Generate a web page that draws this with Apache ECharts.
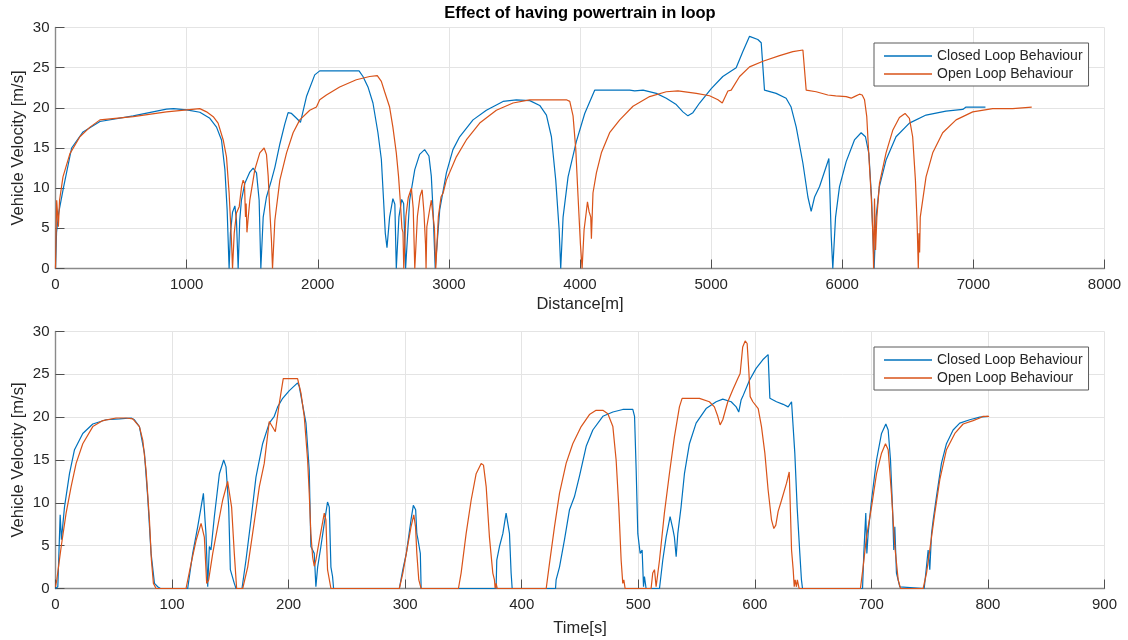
<!DOCTYPE html>
<html>
<head>
<meta charset="utf-8">
<title>Effect of having powertrain in loop</title>
<script src="https://cdn.jsdelivr.net/npm/echarts@6/dist/echarts.min.js"></script>
<style>
  html, body { margin: 0; padding: 0; background: #fff; }
  #chart { width: 1128px; height: 640px; }
</style>
</head>
<body>
<div id="chart"></div>
<script>
// Vehicle velocity [m/s] against travelled distance [m]
const distClosed = [
  [0,0],[8,4.5],[25,7],[60,10],[123,15],[210,17],[339,18.3],[593,19.0],[846,19.85],[900,19.9],[1000,19.75],
  [1101,19.45],[1177,18.7],[1228,17.6],[1266,16.0],[1292,12.3],[1309,7.3],[1324,0],[1334,4.4],[1350,7.0],
  [1368,7.8],[1380,6.0],[1393,0],[1405,6.0],[1418,8.5],[1444,10.6],[1482,12.0],[1507,12.5],[1533,11.9],
  [1553,8.5],[1566,0],[1584,6.4],[1609,8.9],[1647,11.0],[1673,12.6],[1711,15.5],[1749,18.0],[1774,19.4],
  [1800,19.3],[1838,18.7],[1868,18.2],[1914,21.4],[1977,24.1],[2015,24.6],[2315,24.6],[2345,23.9],
  [2383,22.6],[2421,20.6],[2459,16.9],[2485,13.6],[2502,8.5],[2515,4.4],[2528,2.6],[2548,6.4],[2573,8.7],
  [2588,8.0],[2599,0],[2619,6.4],[2640,8.6],[2655,8.1],[2670,0],[2701,8.5],[2740,12.3],[2777,14.2],
  [2815,14.8],[2848,14.0],[2866,11.5],[2879,7.3],[2896,0],[2930,7.3],[2981,11.9],[3031,14.8],[3082,16.4],
  [3184,18.5],[3286,19.7],[3413,20.8],[3514,20.98],[3617,20.9],[3693,20.3],[3744,19.1],[3782,16.4],
  [3815,11.0],[3841,4.8],[3853,0],[3871,6.4],[3909,11.4],[3972,15.8],[4036,19.3],[4112,22.2],[4379,22.2],
  [4417,22.1],[4481,22.2],[4582,21.8],[4658,21.2],[4734,20.4],[4785,19.5],[4823,19.0],[4861,19.4],
  [4912,20.6],[5001,22.4],[5089,23.9],[5191,25.0],[5242,27.0],[5293,28.9],[5356,28.5],[5382,28.1],
  [5407,22.2],[5496,21.8],[5572,21.2],[5610,20.1],[5649,17.6],[5700,13.1],[5738,8.9],[5763,7.1],
  [5789,8.9],[5827,10.2],[5898,13.7],[5903,11.0],[5916,4.0],[5928,0],[5949,6.4],[5979,10.2],[6030,13.3],
  [6093,16.0],[6144,16.9],[6177,16.4],[6203,14.3],[6223,8.9],[6243,0],[6258,6.4],[6283,10.2],[6334,13.5],
  [6410,16.4],[6512,18.1],[6639,19.1],[6791,19.6],[6919,19.8],[6944,20.1],[7092,20.1]
];

const distOpen = [
  [0,0],[9,8.5],[22,5.2],[31,8.5],[57,11.4],[110,14.3],[186,16.4],[263,17.6],[339,18.5],[593,18.9],
  [846,19.5],[1100,19.9],[1152,19.5],[1203,18.9],[1240,18.1],[1279,16.0],[1304,13.9],[1324,9.4],
  [1342,3.5],[1350,0],[1363,4.4],[1380,6.9],[1401,7.7],[1419,10.2],[1431,11.0],[1441,10.6],[1449,6.4],
  [1454,8.1],[1460,4.5],[1468,6.0],[1482,8.5],[1520,12.3],[1558,14.4],[1591,15.0],[1609,14.2],
  [1622,11.5],[1634,7.3],[1647,3.5],[1655,0],[1673,6.0],[1711,11.0],[1762,14.4],[1812,16.9],[1863,18.5],
  [1939,19.7],[1990,20.1],[2015,21.0],[2066,21.6],[2167,22.6],[2294,23.5],[2396,23.9],[2454,24.0],
  [2485,23.3],[2510,22.0],[2548,20.1],[2573,17.6],[2599,14.4],[2616,11.5],[2629,8.5],[2642,5.0],
  [2650,4.5],[2656,0],[2672,6.5],[2690,8.8],[2714,10.0],[2728,7.5],[2740,0],[2760,6.5],[2780,9.0],
  [2796,9.8],[2810,7.0],[2822,3.0],[2826,0],[2832,5.2],[2850,7.0],[2866,8.5],[2880,8.7],[2890,5.0],
  [2900,0],[2920,6.5],[2940,8.9],[2956,9.4],[2981,11.0],[3057,13.9],[3133,16.0],[3235,18.1],[3362,19.7],
  [3489,20.6],[3616,21.0],[3896,21.0],[3922,20.8],[3947,19.0],[3968,14.8],[3985,9.0],[4003,3.1],
  [4016,0],[4031,4.8],[4044,6.5],[4057,8.3],[4069,7.1],[4082,6.4],[4087,3.7],[4099,9.4],[4125,11.9],
  [4163,14.4],[4226,16.9],[4303,18.5],[4404,20.2],[4531,21.4],[4658,22.0],[4747,22.1],[4887,21.8],
  [4988,21.5],[5052,21.0],[5085,20.6],[5102,21.2],[5128,22.1],[5153,22.2],[5217,23.9],[5293,25.1],
  [5395,25.8],[5522,26.5],[5623,27.0],[5700,27.2],[5725,22.2],[5801,22.0],[5890,21.6],[5950,21.5],
  [6030,21.4],[6068,21.2],[6093,21.4],[6131,21.7],[6152,21.6],[6170,21.0],[6187,18.9],[6203,14.0],
  [6221,9.0],[6234,4.0],[6239,0],[6246,8.7],[6254,2.3],[6264,6.4],[6284,10.6],[6334,14.4],[6385,17.2],
  [6436,18.8],[6479,19.3],[6512,18.7],[6537,16.4],[6558,11.0],[6571,5.6],[6580,0],[6585,4.4],[6590,2.0],
  [6595,6.4],[6639,11.4],[6690,14.4],[6766,16.9],[6868,18.5],[6995,19.5],[7147,19.9],[7300,19.9],[7445,20.1]
];

// Vehicle velocity [m/s] against time [s]
const timeClosed = [
  [0,0],[2,0.2],[4,8.6],[5.1,5.7],[7.7,9.5],[12,13.4],[16.3,16.2],[23.4,18.1],[32,19.2],[43.4,19.7],
  [54.9,19.8],[64.9,19.9],[67.7,19.7],[72,18.9],[76.3,15.8],[79.1,10.7],[82,4.1],[84.9,0.6],[87.7,0.2],
  [90,0],[113.4,0],[117.7,4.1],[122,7.2],[124.9,9.5],[126.9,11.1],[128.3,8.0],[129.1,6.4],[130.6,0.2],
  [132,4.9],[133.4,4.5],[136.3,8.4],[140.6,13.4],[144.3,15.0],[146.3,14.2],[148.6,9.5],[150,2.2],
  [153.4,0.6],[154.9,0],[160,0],[163.4,3.3],[167.7,8.0],[172,13.0],[177.7,16.9],[183.4,19.3],[187.7,20.1],
  [190.6,21.2],[194.9,22.2],[200.6,23.1],[207.7,24.0],[209.1,23.6],[214.9,19.3],[217.7,13.8],[219.1,4.9],
  [222,4.1],[223.4,0.2],[224.9,2.5],[227.7,4.9],[230.6,7.6],[233.4,10.1],[234.9,9.5],[236.3,2.5],
  [237.7,1.4],[238.6,0],[295,0],[298,2.2],[301,4.1],[305,8.0],[307,9.7],[309,9.2],[310,6.4],[311,5.7],
  [312,4.9],[313,4.1],[313.7,0],[378,0],[378.6,3.3],[380.9,4.9],[383.8,6.4],[386.6,8.8],[388,9.0],
  [389.5,6.4],[390.9,1.8],[391.8,0],[429,0],[429.5,1.0],[432.4,2.5],[436.7,5.7],[441,9.2],[445.2,10.7],
  [449.5,13.1],[455.3,16.6],[461,18.5],[469.6,20.1],[478.2,20.6],[486.7,20.9],[495.3,20.9],[496.8,20.1],
  [498.2,13.8],[499.6,6.4],[501.6,4.1],[503.3,4.5],[504.5,0.2],[505.3,1.4],[506.7,0],[518.2,0],[521,3.3],
  [523.9,6.0],[527.3,8.4],[529.6,7.0],[531,6.0],[532.5,3.7],[533.9,6.4],[536.7,9.5],[539.6,13.4],
  [543.9,16.9],[549.6,19.3],[558.2,21.0],[566.8,21.8],[572.5,22.1],[579.7,21.8],[584,21.2],[586.2,20.6],
  [588.2,22.0],[589.6,22.4],[595.4,24.3],[601.1,25.7],[606.8,26.7],[611.4,27.3],[612.9,22.2],[618.6,21.8],
  [624.3,21.5],[628.6,21.2],[631.5,21.8],[632.9,21.6],[634.3,15.8],[636.3,9.5],[638.6,4.1],[640,1.0],
  [640.9,0],[692.4,0],[693.5,4.1],[695.2,8.8],[696.1,4.1],[697.2,6.4],[700.1,10.3],[704.4,15.0],
  [708.7,18.1],[712.4,19.2],[714.4,18.5],[716.4,15.0],[718.1,9.5],[719.2,4.5],[720.1,7.2],[721.5,1.8],
  [724.4,0.2],[725.8,0],[745.3,0],[746.7,1.8],[748.7,4.5],[750.1,2.2],[751.6,6.4],[753,8.0],[755.8,10.7],
  [760.1,14.6],[764.4,16.9],[770.1,18.5],[775.8,19.3],[784.4,19.7],[793,20.0],[800.1,20.1]
];

const timeOpen = [
  [0,0.2],[1.1,1],[4.9,4.9],[9.1,8.8],[13.4,11.9],[17.7,14.6],[23.4,16.9],[32,18.9],[40.6,19.6],[52,19.9],
  [60.6,19.9],[66.3,19.8],[72,18.9],[74.9,17.3],[77.7,13.8],[80.6,8.0],[82.3,3.3],[84,0.6],[86.3,0],
  [112,0],[116.3,2.9],[120.6,5.6],[124.9,7.6],[126.3,7.8],[127.7,6.0],[129.7,0.6],[131.4,1.0],[134.9,4.1],
  [139.1,7.2],[143.4,10.3],[147.7,12.5],[149.1,12.3],[151.1,9.5],[153.4,4.1],[155.4,0],[160.6,0],
  [164.9,2.5],[169.1,6.4],[174.9,11.9],[179.1,14.6],[183.4,19.5],[188.6,18.3],[192,21.6],[195.4,24.5],
  [207.7,24.5],[210.6,22.8],[213.4,20.1],[216.3,15],[217.7,11.1],[219.1,6.4],[220.6,3.7],[222,2.6],
  [223.4,3.3],[226.3,5.6],[230.6,8.8],[232,8.0],[233.4,2.2],[236.3,0],[295,0],[298,1.8],[301,4.1],
  [305,7.2],[307.4,8.6],[308.9,7.2],[310,4.1],[311.7,1.0],[313.7,0],[345.7,0],[348,1.8],[352.3,6.4],
  [356.6,10.3],[360.9,13.4],[365.2,14.6],[367.2,14.4],[369.5,11.9],[372.3,6.0],[375.2,1.8],[376.6,1.0],
  [377.2,0],[378,0.6],[379,0],[421,0],[423.8,2.9],[428.1,7.2],[432.4,11.1],[438.1,14.6],[443.8,16.9],
  [451,18.9],[458.1,20.3],[463.8,20.8],[469.6,20.8],[473.9,20.4],[478.2,18.9],[481,15.0],[483.3,9.5],
  [485.3,3.3],[486.7,0.6],[487.6,1.0],[488.7,0],[511,0],[512.4,1.8],[513.9,2.2],[515.3,0.2],[518.2,3.3],
  [522.4,8.8],[526.7,13.4],[531,17.7],[535.3,21.2],[537.6,22.2],[552.5,22.2],[561,21.8],[565.3,21.2],
  [568.2,20.1],[570.2,19.1],[572.5,19.7],[576.8,21.8],[581.1,23.2],[585.4,24.5],[587.4,25.1],[589.6,28.2],
  [591.7,28.9],[593.4,28.6],[594.8,25.5],[596,22.4],[598.3,21.8],[600,21.6],[602.9,21.0],[605.7,18.9],
  [608.6,15.8],[611.4,11.5],[614.3,8.0],[616.3,7.0],[618,7.4],[620,9.0],[622.9,10.3],[627.2,12.3],
  [629.5,13.6],[630.1,11.1],[631.5,4.5],[632.9,2.2],[633.8,0.2],[634.6,1.0],[635.7,0.2],[636.5,1.0],
  [638,0],[690.6,0],[692.9,2.5],[695.8,6.0],[700.1,9.5],[704.4,13.4],[708.7,15.8],[712.1,16.9],
  [714.4,16.2],[717.2,11.1],[720.1,4.9],[723,1.0],[725,0],[744.4,0],[747.3,1.8],[750.1,4.5],[754.4,8.8],
  [758.7,12.7],[764.4,16.2],[771.6,18.1],[778.7,19.2],[787.3,19.6],[793,19.9],[795.9,20.1],[801,20.1]
];

const seriesNames = ['Closed Loop Behaviour', 'Open Loop Behaviour'];
const seriesColors = ['#0072BD', '#D95319'];

const FONT = '"Liberation Sans", Arial, Helvetica, sans-serif';
const INK = '#262626';

function valueAxis(gridIndex, min, max, interval, name, nameGap, isX) {
  return {
    type: 'value', gridIndex, min, max, interval,
    name, nameLocation: 'middle', nameGap,
    nameMoveOverlap: isX,
    nameTextStyle: { fontFamily: FONT, fontSize: 16.5, color: INK },
    axisLine: { show: true, onZero: false, lineStyle: { color: '#8a8a8a', width: 1.4 } },
    axisTick: { show: true, inside: true, length: 9, lineStyle: { color: '#505050', width: 1 } },
    axisLabel: {
      fontFamily: FONT, fontSize: 15, color: INK, margin: isX ? 9 : 6,
      formatter: (v) => String(v)
    },
    splitLine: { show: true, lineStyle: { color: '#e4e4e4', width: 1 } }
  };
}

function lineSeries(i, data, axisIndex) {
  return {
    name: seriesNames[i], type: 'line', data,
    xAxisIndex: axisIndex, yAxisIndex: axisIndex,
    symbol: 'none', showSymbol: false, smooth: false,
    lineStyle: { color: seriesColors[i], width: 1.2 },
    itemStyle: { color: seriesColors[i] },
    emphasis: { disabled: true }
  };
}

// Legend entries drawn as a plain line sample, no marker
const LEGEND_LINE = 'path://M0,0 L48,0 L48,1.3 L0,1.3 Z';

function legendBox(top) {
  return {
    left: 874, top, orient: 'vertical',
    data: seriesNames.map((n) => ({ name: n, icon: LEGEND_LINE })),
    padding: [6, 6, 5, 10], itemGap: 4, itemWidth: 48, itemHeight: 14,
    backgroundColor: '#ffffff', borderColor: '#5a5a5a', borderWidth: 1,
    textStyle: { fontFamily: FONT, fontSize: 14, color: INK, lineHeight: 14 },
    selectedMode: false
  };
}

const chart = echarts.init(document.getElementById('chart'), null, { renderer: 'canvas' });
chart.setOption({
  animation: false,
  backgroundColor: '#ffffff',
  title: {
    text: 'Effect of having powertrain in loop',
    left: 580, top: 5, textAlign: 'center', padding: 0,
    textStyle: { fontFamily: FONT, fontSize: 16.5, fontWeight: 'bold', color: '#000' }
  },
  grid: [
    { left: 55.5, right: 23.5, top: 27.5, height: 241, outerBoundsMode: 'none' },
    { left: 55.5, right: 23.5, top: 331.5, height: 257, outerBoundsMode: 'none' }
  ],
  xAxis: [
    valueAxis(0, 0, 8000, 1000, 'Distance[m]', 27, true),
    valueAxis(1, 0, 900, 100, 'Time[s]', 31, true)
  ],
  yAxis: [
    valueAxis(0, 0, 30, 5, 'Vehicle Velocity [m/s]', 29, false),
    valueAxis(1, 0, 30, 5, 'Vehicle Velocity [m/s]', 29, false)
  ],
  legend: [legendBox(43), legendBox(347)],
  series: [
    lineSeries(0, distClosed, 0),
    lineSeries(1, distOpen, 0),
    lineSeries(0, timeClosed, 1),
    lineSeries(1, timeOpen, 1)
  ]
});
</script>
</body>
</html>
